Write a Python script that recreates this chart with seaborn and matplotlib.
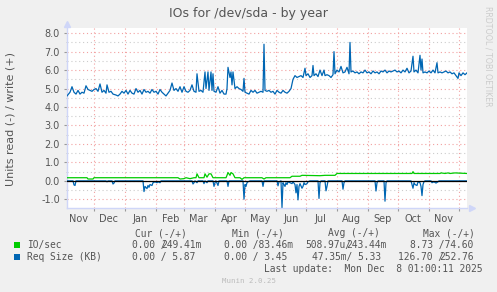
import numpy as np
import pandas as pd
import matplotlib
matplotlib.use("Agg")
import matplotlib.pyplot as plt
import matplotlib.dates as mdates
from matplotlib.ticker import MultipleLocator, NullFormatter, FormatStrFormatter
from matplotlib.patches import Rectangle
import seaborn as sns

# time axis: (day offset from left edge of graph, value)
start = pd.Timestamp("2024-11-04 06:00")
span_days = 400

# Req Size (KB), write (+)
req_wr_pts = [
    (0, 4.6), (3, 4.8), (5, 5.1), (7, 4.8), (9, 4.7), (11, 4.9), (13, 4.7), (15, 4.8), (17, 4.75),
    (19, 5.15), (21, 4.95), (23, 4.9), (25, 4.85), (27, 4.95), (29, 5.0), (31, 4.85), (33, 5.25),
    (35, 4.8), (37, 4.9), (39, 4.75), (40, 5.2), (42, 4.8), (44, 4.85), (46, 4.7), (49, 4.65),
    (51, 4.6), (53, 4.7), (55, 4.85), (57, 4.75), (59, 4.9), (61, 4.7), (63, 4.9), (65, 4.75),
    (67, 4.7), (69, 5.0), (71, 4.8), (73, 4.9), (75, 4.7), (77, 4.95), (79, 4.8), (81, 4.85),
    (83, 4.75), (85, 4.95), (87, 4.8), (89, 4.85), (91, 4.7), (93, 4.95), (95, 4.8), (97, 4.7),
    (99, 4.6), (101, 4.75), (103, 4.9), (105, 5.3), (107, 4.9), (109, 5.0), (111, 4.85), (113, 5.1),
    (115, 4.8), (117, 5.1), (119, 4.85), (121, 4.8), (123, 4.9), (125, 5.2), (127, 4.85), (129, 4.8),
    (130, 5.8), (132, 4.85), (134, 4.9), (136, 4.8), (138, 5.9), (139, 5.0), (141, 5.9), (142, 4.9),
    (144, 5.9), (145, 4.9), (146, 5.8), (147, 4.85), (149, 4.8), (151, 5.1), (153, 4.75), (155, 4.9),
    (157, 4.7), (159, 4.7), (160, 5.0), (161, 6.15), (163, 5.6), (164, 5.9), (165, 5.2), (166, 5.9),
    (168, 5.0), (170, 5.1), (172, 5.0), (174, 4.95), (176, 4.85), (177, 5.55), (178, 4.8), (180, 4.75),
    (182, 4.7), (184, 4.9), (186, 4.8), (188, 4.9), (190, 4.75), (192, 4.8), (194, 4.85), (196, 4.8),
    (197, 7.4), (198, 4.9), (200, 4.85), (202, 4.9), (204, 4.8), (206, 4.85), (208, 4.7), (210, 4.9),
    (212, 4.8), (214, 4.75), (216, 4.9), (218, 4.8), (220, 4.75), (222, 4.85), (224, 5.0), (226, 5.5),
    (228, 5.7), (230, 5.6), (232, 5.65), (234, 5.7), (236, 5.6), (238, 6.1), (239, 5.7), (241, 5.8),
    (243, 5.6), (245, 5.7), (246, 6.25), (247, 5.7), (249, 5.8), (251, 5.65), (253, 6.0), (255, 5.7),
    (257, 6.0), (258, 5.7), (260, 5.75), (262, 5.7), (264, 5.6), (266, 5.75), (267, 7.0), (268, 5.8),
    (270, 6.0), (272, 5.9), (274, 6.2), (276, 5.85), (278, 5.9), (280, 6.15), (282, 5.8), (283, 7.5),
    (284, 5.9), (286, 5.95), (288, 5.85), (290, 5.9), (292, 5.8), (294, 5.9), (296, 5.85), (298, 6.0),
    (300, 5.85), (302, 5.9), (304, 5.8), (306, 5.95), (308, 5.85), (310, 5.9), (312, 5.8), (314, 5.95),
    (316, 5.9), (318, 6.0), (320, 5.85), (322, 5.95), (324, 5.9), (326, 5.95), (328, 6.0), (330, 5.9),
    (332, 5.95), (334, 5.85), (336, 6.0), (338, 5.9), (340, 6.1), (342, 5.85), (344, 5.95), (346, 6.75),
    (347, 5.9), (349, 6.0), (351, 5.85), (353, 6.8), (354, 6.0), (355, 6.6), (356, 5.85), (358, 5.9),
    (360, 5.85), (362, 5.95), (364, 5.85), (366, 6.0), (368, 5.85), (370, 6.4), (371, 5.85), (373, 5.9),
    (375, 5.85), (377, 5.9), (379, 5.95), (381, 5.85), (383, 5.9), (385, 5.8), (387, 5.85), (389, 5.7),
    (391, 5.55), (392, 5.85), (394, 5.7), (396, 5.85), (398, 5.75), (400, 5.85),
]

# Req Size (KB), read (-)
req_rd_pts = [
    (0, 0), (6, 0), (7, -0.22), (8, -0.25), (9, 0), (39, 0), (40, -0.05), (41, 0), (45, 0), (46, -0.17),
    (47, -0.12), (48, 0), (76, 0), (77, -0.58), (78, -0.3), (80, -0.42), (81, -0.25), (82, -0.35),
    (83, -0.2), (85, -0.25), (86, -0.1), (88, -0.05), (90, -0.1), (91, -0.05), (93, -0.1), (94, 0),
    (125, 0), (126, -0.17), (127, -0.1), (128, 0), (130, -0.1), (131, 0), (136, 0), (137, -0.15),
    (138, 0), (140, -0.1), (141, 0), (146, 0), (147, -0.3), (148, -0.1), (149, 0), (151, -0.25),
    (152, 0), (160, 0), (161, -0.3), (162, 0), (176, 0), (177, -0.99), (178, -0.2), (179, -0.3),
    (180, -0.1), (181, -0.05), (183, 0), (195, 0), (196, -0.3), (197, 0), (210, 0), (211, -0.27),
    (212, -0.05), (214, 0), (215, -1.44), (216, -0.1), (217, -0.2), (218, -0.3), (219, -0.1),
    (220, -0.2), (221, -0.05), (223, -0.1), (225, -0.15), (226, -0.05), (228, -0.2), (229, -0.65),
    (230, -0.2), (231, -1.03), (232, -0.3), (233, -0.15), (235, -0.4), (236, -0.3), (237, -0.1),
    (238, -0.2), (240, -0.15), (241, -0.05), (243, 0), (251, 0), (252, -0.95), (253, -0.1), (254, 0),
    (258, 0), (259, -0.54), (260, -0.3), (261, 0), (275, 0), (276, -0.45), (277, -0.1), (278, 0),
    (308, 0), (309, -0.55), (310, -0.1), (311, 0), (317, 0), (318, -1.1), (319, -0.1), (320, 0),
    (344, 0), (345, -0.2), (346, -0.4), (347, -0.1), (348, -0.2), (350, -0.25), (351, -0.05),
    (353, -0.1), (354, -0.3), (355, -0.8), (356, -0.2), (357, -0.05), (358, 0), (364, 0), (365, -0.1),
    (367, -0.05), (369, -0.12), (371, -0.05), (372, 0), (400, 0),
]

# IO/sec, write (+)
io_wr_pts = [
    (0, 0.17), (20, 0.17), (21, 0.1), (26, 0.1), (27, 0.17), (111, 0.17), (113, 0.1), (117, 0.12),
    (119, 0.17), (123, 0.12), (127, 0.17), (129, 0.17), (130, 0.38), (132, 0.17), (137, 0.17),
    (138, 0.38), (140, 0.2), (142, 0.38), (144, 0.38), (146, 0.17), (159, 0.17), (160, 0.3),
    (161, 0.45), (163, 0.3), (164, 0.45), (166, 0.38), (168, 0.17), (173, 0.17), (175, 0.08),
    (177, 0.17), (195, 0.17), (197, 0.1), (199, 0.17), (223, 0.17), (225, 0.25), (233, 0.25),
    (235, 0.3), (253, 0.28), (258, 0.3), (268, 0.3), (270, 0.4), (345, 0.4), (346, 0.5), (347, 0.4),
    (373, 0.4), (374, 0.43), (378, 0.4), (381, 0.43), (383, 0.4), (388, 0.43), (400, 0.4),
]

# legend text
col_heads = ["Cur (-/+)", "Min (-/+)", "Avg (-/+)", "Max (-/+)"]
series_names = ["IO/sec", "Req Size (KB)"]
series_colors = ["#00CC00", "#0066B3"]
io_cols = [("0.00 /", "249.41m"), ("0.00 /83.46m", ""), ("508.97u/", "243.44m"), ("8.73 /74.60", "")]
req_cols = [("0.00 / 5.87", ""), ("0.00 / 3.45", ""), ("47.35m/ 5.33", ""), ("126.70 /", "252.76")]
last_update = "Last update:  Mon Dec  8 01:00:11 2025"
title = "IOs for /dev/sda - by year"
ylabel = "Units read (-) / write (+)"


def to_df(pts):
    d = pd.DataFrame(pts, columns=["day", "v"])
    d["t"] = start + pd.to_timedelta(d["day"], unit="D")
    return d


W, H = 497, 292
fig = plt.figure(figsize=(W / 100, H / 100), dpi=100, facecolor="#F0F0F0")
ax = fig.add_axes([67 / W, (H - 208) / H, 400 / W, 180 / H])
ax.set_facecolor("white")

txt = "#555555"
red_grid = "#F2A0A0"
gray_grid = "#CCCCCC"
axis_c = "#CFD6F8"

sns.lineplot(data=to_df(req_rd_pts), x="t", y="v", ax=ax, color="#0066B3", lw=0.9,
             estimator=None, zorder=3)
sns.lineplot(data=to_df(req_wr_pts), x="t", y="v", ax=ax, color="#0066B3", lw=0.9,
             estimator=None, zorder=3)
sns.lineplot(data=to_df(io_wr_pts), x="t", y="v", ax=ax, color="#00CC00", lw=0.9,
             estimator=None, zorder=3)
ax.axhline(0, color="black", lw=0.9, zorder=4)

ax.set_xlim(start, start + pd.Timedelta(days=span_days))
ax.set_ylim(-1.47, 8.28)

ax.yaxis.set_major_locator(MultipleLocator(1))
ax.yaxis.set_minor_locator(MultipleLocator(0.5))
ax.yaxis.set_major_formatter(FormatStrFormatter("%.1f"))
ax.xaxis.set_major_locator(mdates.MonthLocator(bymonthday=1))
ax.xaxis.set_major_formatter(NullFormatter())
ax.xaxis.set_minor_locator(mdates.MonthLocator(bymonthday=16))
ax.xaxis.set_minor_formatter(mdates.DateFormatter("%b"))

ax.grid(which="major", axis="both", color=red_grid, lw=0.8, linestyle=(0, (1, 2.5)), zorder=1)
ax.grid(which="minor", axis="y", color=gray_grid, lw=0.8, linestyle=(0, (1, 2.5)), zorder=1)
ax.set_axisbelow(True)

ax.tick_params(axis="y", which="major", length=2, color="#999999", labelsize=7, labelcolor=txt, pad=3)
ax.tick_params(axis="y", which="minor", length=1, color="#BBBBBB")
ax.tick_params(axis="x", which="major", length=2, color="#999999")
ax.tick_params(axis="x", which="minor", length=0, labelsize=7, labelcolor=txt, pad=4)
ax.set_xlabel("")
ax.set_ylabel("")

for s in ["top", "right"]:
    ax.spines[s].set_visible(False)
for s in ["left", "bottom"]:
    ax.spines[s].set_color(axis_c)
    ax.spines[s].set_linewidth(1.0)
ax.plot([0], [1.02], marker="^", ms=4, color=axis_c, transform=ax.transAxes, clip_on=False)
ax.plot([1.012], [0], marker=">", ms=4, color=axis_c, transform=ax.transAxes, clip_on=False)


def ftext(x, y, s, **kw):
    fig.text(x / W, 1 - y / H, s, **kw)


ftext(248, 13, title, ha="center", va="center", fontsize=9, color=txt)
ftext(10.5, 119.5, ylabel, ha="center", va="center", rotation=90, fontsize=8, color=txt)
ftext(488, 56, "RRDTOOL / TOBI OETIKER", ha="center", va="center", rotation=270,
      fontsize=5.7, color="#CCCCCC")

mono = dict(family="DejaVu Sans Mono", fontsize=6.9, color=txt, va="center", ha="left")
cw = 5.83
for x, h in zip([135, 231.7, 328, 423], col_heads):
    ftext(x, 233, h, **mono)

row_y = [245, 257]
for y, name, col in zip(row_y, series_names, series_colors):
    fig.patches.append(Rectangle((14 / W, 1 - (y + 3) / H), 6 / W, 6 / H, transform=fig.transFigure,
                                 facecolor=col, edgecolor="none"))
    ftext(27, y, name, **mono)

starts = [[131.7, 224, 305, 410], [131.7, 224, 311.7, 398]]
for y, cols, xs in zip(row_y, [io_cols, req_cols], starts):
    for x, (a, b) in zip(xs, cols):
        ftext(x, y, a, **mono)
        if b:
            ftext(x + (len(a) - 1) * cw, y, b, **mono)

ftext(483, 269, last_update, **dict(mono, ha="right"))
ftext(249, 281, "Munin 2.0.25", ha="center", va="center", family="DejaVu Sans Mono",
      fontsize=5.3, color="#BBBBBB")

fig.savefig("out.png", dpi=100, facecolor=fig.get_facecolor())
